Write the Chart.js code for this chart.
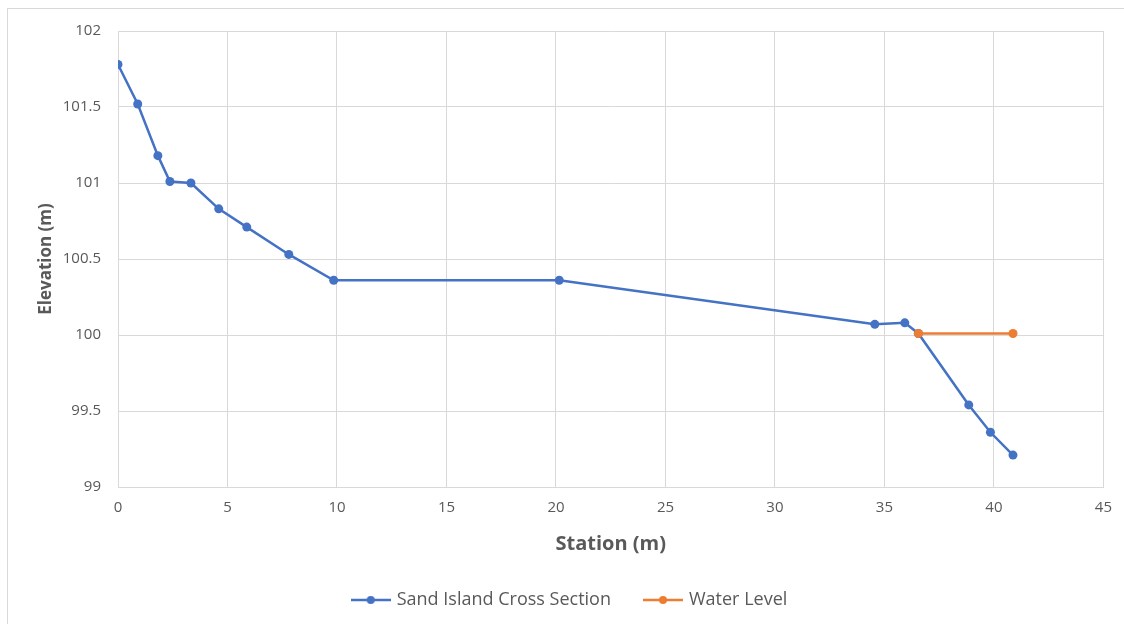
<!DOCTYPE html>
<html>
<head>
<meta charset="utf-8">
<script src="https://cdn.jsdelivr.net/npm/chart.js@4"></script>
<style>
    body { margin: 0; background: #ffffff; }
    #wrap { position: relative; width: 1124px; height: 624px; overflow: hidden; }
    #frame { position: absolute; left: 7px; top: 8px; width: 1200px; height: 700px;
             border-left: 1px solid #d9d9d9; border-top: 1px solid #d9d9d9; }
    #chart { position: absolute; left: 0; top: 0; }
</style>
</head>
<body>
<div id="wrap">
    <div id="frame"></div>
    <canvas id="chart" width="1124" height="624"></canvas>
</div>
<script>
const sectionStation = [0, 0.9, 1.82, 2.37, 3.33, 4.6, 5.88, 7.8, 9.85, 20.15, 34.56, 35.93, 36.55, 38.85, 39.84, 40.87];
const sectionElevation = [101.78, 101.52, 101.18, 101.01, 101.0, 100.83, 100.71, 100.53, 100.36, 100.36, 100.07, 100.08, 100.01, 99.54, 99.36, 99.21];
const waterStation = [36.55, 40.87];
const waterElevation = [100.01, 100.01];
const seriesNames = ["Sand Island Cross Section", "Water Level"];
const seriesColors = ["#4472c4", "#ed7d31"];

const textColor = "#595959";
const gridColor = "#d9d9d9";
const fontFamily = "'Open Sans', Lato, sans-serif";

function toPoints(xs, ys) {
    return xs.map((x, i) => ({ x: x, y: ys[i] }));
}

// little line-with-dot sample for the legend
function legendMark(color) {
    const c = document.createElement("canvas");
    c.width = 40;
    c.height = 10;
    const g = c.getContext("2d");
    g.strokeStyle = color;
    g.lineWidth = 2.5;
    g.beginPath();
    g.moveTo(0, 5);
    g.lineTo(40, 5);
    g.stroke();
    g.fillStyle = color;
    g.beginPath();
    g.arc(20, 5, 4, 0, Math.PI * 2);
    g.fill();
    return c;
}

const ctx = document.getElementById("chart").getContext("2d");

const chart = new Chart(ctx, {
    type: "scatter",
    data: {
        datasets: [{
            label: seriesNames[0],
            data: toPoints(sectionStation, sectionElevation),
            showLine: true,
            borderColor: seriesColors[0],
            backgroundColor: seriesColors[0],
            borderWidth: 2.5,
            pointRadius: 4.5,
            pointBorderWidth: 0,
            order: 2
        }, {
            label: seriesNames[1],
            data: toPoints(waterStation, waterElevation),
            showLine: true,
            borderColor: seriesColors[1],
            backgroundColor: seriesColors[1],
            borderWidth: 2.5,
            pointRadius: 4.5,
            pointBorderWidth: 0,
            order: 1
        }]
    },
    options: {
        responsive: false,
        animation: false,
        layout: { padding: { left: 36, right: 19, top: 31, bottom: 5 } },
        plugins: {
            tooltip: { enabled: false },
            legend: {
                position: "bottom",
                labels: {
                    color: textColor,
                    font: { family: fontFamily, size: 18 },
                    usePointStyle: true,
                    pointStyleWidth: 34,
                    padding: 35,
                    generateLabels: (c) => c.data.datasets.map((ds, i) => ({
                        text: ds.label,
                        fontColor: textColor,
                        pointStyle: legendMark(seriesColors[i]),
                        datasetIndex: i,
                        hidden: false,
                        lineWidth: 0
                    }))
                }
            }
        },
        scales: {
            x: {
                type: "linear",
                min: 0,
                max: 45,
                ticks: {
                    stepSize: 5,
                    color: textColor,
                    font: { family: fontFamily, size: 15 },
                    padding: 12
                },
                grid: { color: gridColor, drawTicks: false },
                border: { color: gridColor },
                title: {
                    display: true,
                    text: "Station (m)",
                    color: textColor,
                    font: { family: fontFamily, size: 20, weight: "bold" },
                    padding: { top: 0, bottom: 0 }
                },
                afterFit: (scale) => { scale.height = 69; }
            },
            y: {
                min: 99,
                max: 102,
                ticks: {
                    stepSize: 0.5,
                    color: textColor,
                    font: { family: fontFamily, size: 15 },
                    padding: 17,
                    callback: (v) => String(v)
                },
                grid: { color: gridColor, drawTicks: false },
                border: { color: gridColor },
                title: {
                    display: true,
                    text: "Elevation (m)",
                    color: textColor,
                    font: { family: fontFamily, size: 17, weight: "bold" },
                    padding: { top: 0, bottom: 0 }
                },
                afterFit: (scale) => { scale.width = 82; }
            }
        }
    }
});
</script>
</body>
</html>
